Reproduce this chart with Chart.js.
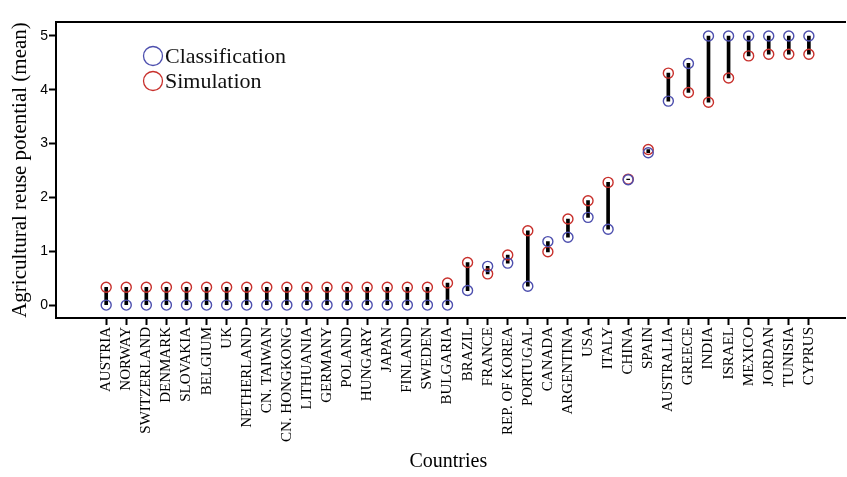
<!DOCTYPE html>
<html>
<head>
<meta charset="utf-8">
<script src="https://cdn.jsdelivr.net/npm/chart.js@4.4.1/dist/chart.umd.min.js"></script>
<style>
  html, body { margin: 0; padding: 0; background: #fff; }
  #wrap { width: 847px; height: 477px; }
</style>
</head>
<body>
<div id="wrap"><canvas id="c"></canvas></div>
<script>
// Countries along the horizontal axis
const countries = [
  'AUSTRIA', 'NORWAY', 'SWITZERLAND', 'DENMARK', 'SLOVAKIA', 'BELGIUM', 'UK',
  'NETHERLAND', 'CN. TAIWAN', 'CN. HONGKONG', 'LITHUANIA', 'GERMANY', 'POLAND',
  'HUNGARY', 'JAPAN', 'FINLAND', 'SWEDEN', 'BULGARIA', 'BRAZIL', 'FRANCE',
  'REP. OF KOREA', 'PORTUGAL', 'CANADA', 'ARGENTINA', 'USA', 'ITALY', 'CHINA',
  'SPAIN', 'AUSTRALIA', 'GREECE', 'INDIA', 'ISRAEL', 'MEXICO', 'JORDAN',
  'TUNISIA', 'CYPRUS'
];

// Mean agricultural reuse potential from the classification
const classification = [
  0, 0, 0, 0, 0, 0, 0,
  0, 0, 0, 0, 0, 0,
  0, 0, 0, 0, 0, 0.27, 0.72,
  0.78, 0.35, 1.18, 1.26, 1.63, 1.41, 2.33,
  2.83, 3.79, 4.49, 5, 5, 5, 5,
  5, 5
];

// Mean agricultural reuse potential from the simulation
const simulation = [
  0.33, 0.33, 0.33, 0.33, 0.33, 0.33, 0.33,
  0.33, 0.33, 0.33, 0.33, 0.33, 0.33,
  0.33, 0.33, 0.33, 0.33, 0.41, 0.79, 0.58,
  0.93, 1.38, 0.99, 1.60, 1.94, 2.28, 2.34,
  2.89, 4.31, 3.95, 3.77, 4.22, 4.63, 4.66,
  4.66, 4.66
];

const yTicks = [0, 1, 2, 3, 4, 5];

const SERIF = '"Liberation Serif", "Times New Roman", serif';
const SANS = '"Liberation Sans", Arial, sans-serif';
const BLUE = '#4d4fae';
const RED = '#c8302c';

// Top frame line and the in-plot legend
const framePlugin = {
  id: 'frame',
  afterDraw(chart) {
    const { ctx, chartArea } = chart;
    ctx.save();
    ctx.strokeStyle = '#000';
    ctx.lineWidth = 2;
    ctx.beginPath();
    ctx.moveTo(chartArea.left - 1, chartArea.top);
    ctx.lineTo(chart.width - 1, chartArea.top);
    ctx.stroke();
    // bottom axis runs to the right edge as well
    ctx.beginPath();
    ctx.moveTo(chartArea.right, chartArea.bottom);
    ctx.lineTo(chart.width - 1, chartArea.bottom);
    ctx.stroke();

    const entries = chart.data.datasets.filter(d => d.legendColor);
    const x0 = 153;
    let y = 56;
    ctx.font = '22px ' + SERIF;
    ctx.textBaseline = 'middle';
    ctx.fillStyle = '#111';
    entries.forEach(d => {
      ctx.strokeStyle = d.legendColor;
      ctx.lineWidth = 1.3;
      ctx.beginPath();
      ctx.arc(x0, y, 9.5, 0, Math.PI * 2);
      ctx.stroke();
      ctx.fillText(d.label, x0 + 12, y + 1);
      y += 25;
    });
    ctx.restore();
  }
};

const idx = countries.map((_, i) => i);

new Chart(document.getElementById('c'), {
  type: 'bar',
  data: {
    datasets: [
      {
        type: 'scatter',
        label: 'Classification',
        legendColor: BLUE,
        data: idx.map(i => ({ x: i, y: classification[i] })),
        pointRadius: 5,
        pointBorderWidth: 1.4,
        pointBorderColor: BLUE,
        pointBackgroundColor: 'rgba(0,0,0,0)',
        order: 1
      },
      {
        type: 'scatter',
        label: 'Simulation',
        legendColor: RED,
        data: idx.map(i => ({ x: i, y: simulation[i] })),
        pointRadius: 5,
        pointBorderWidth: 1.4,
        pointBorderColor: RED,
        pointBackgroundColor: 'rgba(0,0,0,0)',
        order: 1
      },
      {
        type: 'bar',
        label: 'Difference',
        data: idx.map(i => ({ x: i, y: [classification[i], simulation[i]] })),
        backgroundColor: '#000',
        borderWidth: 0,
        barThickness: 3,
        order: 2
      }
    ]
  },
  options: {
    responsive: true,
    maintainAspectRatio: false,
    animation: false,
    layout: { padding: { top: 22, right: 1, left: 4, bottom: 0 } },
    plugins: {
      legend: { display: false },
      tooltip: { enabled: false }
    },
    scales: {
      x: {
        type: 'linear',
        offset: false,
        min: -2.5,
        max: 36.58,
        afterBuildTicks(scale) {
          scale.ticks = idx.map(i => ({ value: i }));
        },
        afterFit(scale) { scale.height = 159; },
        border: { display: true, color: '#000', width: 2 },
        grid: {
          display: true,
          offset: false,
          drawOnChartArea: false,
          drawTicks: true,
          tickLength: 7,
          tickWidth: 2,
          tickColor: '#000'
        },
        ticks: {
          autoSkip: false,
          maxRotation: 90,
          minRotation: 90,
          padding: 2,
          color: '#000',
          font: { family: SERIF, size: 15 },
          callback: v => countries[v]
        },
        title: {
          display: true,
          text: 'Countries',
          color: '#000',
          font: { family: SERIF, size: 20 },
          padding: { top: 0, bottom: 3 }
        }
      },
      y: {
        type: 'linear',
        min: -0.24,
        max: 5.26,
        afterBuildTicks(scale) {
          scale.ticks = yTicks.map(v => ({ value: v }));
        },
        afterFit(scale) { scale.width = 52; },
        border: { display: true, color: '#000', width: 2 },
        grid: {
          display: true,
          drawOnChartArea: false,
          drawTicks: true,
          tickLength: 7,
          tickWidth: 2,
          tickColor: '#000'
        },
        ticks: {
          padding: 1,
          color: '#000',
          font: { family: SANS, size: 14 }
        },
        title: {
          display: true,
          text: 'Agricultural reuse potential (mean)',
          color: '#000',
          font: { family: SERIF, size: 21 },
          padding: { top: 4, bottom: 0 }
        }
      }
    }
  },
  plugins: [framePlugin]
});
</script>
</body>
</html>
